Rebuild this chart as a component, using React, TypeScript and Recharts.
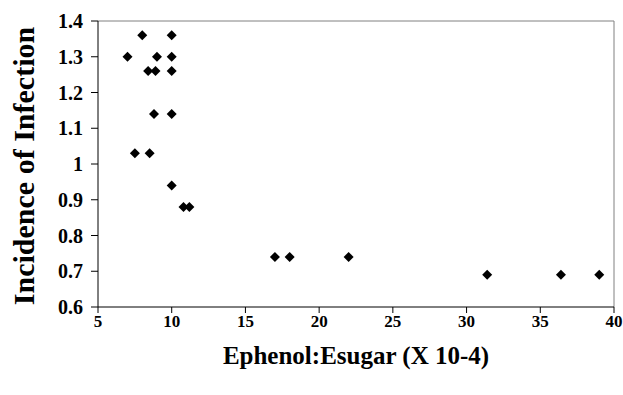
import {
  Label,
  ReferenceLine,
  Scatter,
  ScatterChart,
  XAxis,
  YAxis,
} from "recharts";

// Ephenol:Esugar ratio (x 10^-4) vs incidence of infection
const ratio = [8, 10, 7, 9, 10, 8.4, 8.9, 10, 8.8, 10, 7.5, 8.5, 10, 10.8, 11.2, 17, 18, 22, 31.4, 36.4, 39];
const incidence = [1.36, 1.36, 1.3, 1.3, 1.3, 1.26, 1.26, 1.26, 1.14, 1.14, 1.03, 1.03, 0.94, 0.88, 0.88, 0.74, 0.74, 0.74, 0.69, 0.69, 0.69];

const xTicks = [5, 10, 15, 20, 25, 30, 35, 40];
const yTicks = [0.6, 0.7, 0.8, 0.9, 1, 1.1, 1.2, 1.3, 1.4];

const points = ratio.map((x, i) => ({ x, y: incidence[i] }));

const font = "'Liberation Serif', 'Times New Roman', serif";
const xTickStyle = { fontFamily: font, fontWeight: 700, fontSize: 17, fill: "#000" };
const yTickStyle = { fontFamily: font, fontWeight: 700, fontSize: 20, fill: "#000" };

const Diamond = (props: any) => {
  const { cx, cy } = props;
  const r = 5;
  return (
    <path
      d={`M${cx},${cy - r}L${cx + r},${cy}L${cx},${cy + r}L${cx - r},${cy}Z`}
      fill="#000"
    />
  );
};

export default function App() {
  return (
    <div style={{ position: "absolute", left: 0, top: 0, background: "#fff" }}>
      <ScatterChart
        width={623}
        height={395}
        margin={{ top: 21, right: 9, bottom: 58, left: 0 }}
      >
        <XAxis
          type="number"
          dataKey="x"
          domain={[5, 40]}
          ticks={xTicks}
          interval={0}
          height={30}
          stroke="#000"
          tickSize={6}
          tickMargin={2}
          tick={xTickStyle}
          allowDataOverflow
        >
          <Label
            value="Ephenol:Esugar (X 10-4)"
            position="bottom"
            offset={9}
            style={{ fontFamily: font, fontWeight: 700, fontSize: 25, fill: "#000" }}
          />
        </XAxis>
        <YAxis
          type="number"
          dataKey="y"
          domain={[0.6, 1.4]}
          ticks={yTicks}
          interval={0}
          width={98}
          stroke="#000"
          tickSize={7}
          tickMargin={8}
          tick={yTickStyle}
          tickFormatter={(v: number) => String(Math.round(v * 10) / 10)}
          allowDataOverflow
        >
          <Label
            content={(p: any) => {
              const vb = p.viewBox || {};
              const cy = vb.y + vb.height / 2 + 2;
              return (
                <text
                  x={23}
                  y={cy}
                  transform={`rotate(-90 23 ${cy})`}
                  textAnchor="middle"
                  dominantBaseline="central"
                  style={{ fontFamily: font, fontWeight: 700, fontSize: 30, fill: "#000" }}
                >
                  Incidence of Infection
                </text>
              );
            }}
          />
        </YAxis>
        <ReferenceLine y={1.4} stroke="#808080" strokeWidth={1} />
        <ReferenceLine x={40} stroke="#808080" strokeWidth={1} />
        <Scatter data={points} shape={<Diamond />} isAnimationActive={false} />
      </ScatterChart>
    </div>
  );
}
